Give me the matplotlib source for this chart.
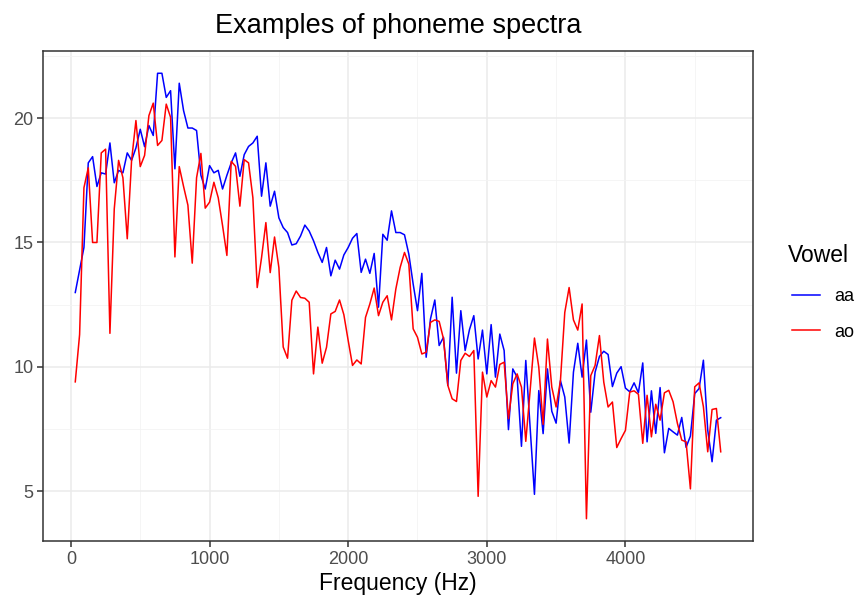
import matplotlib
matplotlib.use("Agg")
import matplotlib.pyplot as plt
import numpy as np

# log-periodogram values for one "aa" and one "ao" utterance, 150 frequency bins
freq_step = 31.25
vowels = ["aa", "ao"]
colors = ["#0000FF", "#FF0000"]

aa = [
    12.99, 13.9, 14.8, 18.2, 18.45, 17.25, 17.8, 17.75, 19.0, 17.4,
    17.9, 17.8, 18.6, 18.3, 18.8, 19.55, 18.85, 19.7, 19.3, 21.8,
    21.8, 20.83, 21.1, 17.96, 21.4, 20.3, 19.6, 19.6, 19.5, 17.7,
    17.15, 18.09, 17.8, 17.9, 17.15, 17.7, 18.2, 18.6, 17.66, 18.53,
    18.86, 19.0, 19.27, 16.86, 18.2, 16.46, 17.06, 15.99, 15.6, 15.4,
    14.9, 14.95, 15.26, 15.7, 15.46, 15.07, 14.6, 14.2, 14.8, 13.66,
    14.29, 13.93, 14.5, 14.8, 15.17, 15.36, 13.8, 14.33, 13.76, 14.56,
    12.4, 15.33, 15.09, 16.27, 15.4, 15.4, 15.31, 14.53, 13.33, 12.26,
    13.76, 10.39, 11.93, 12.69, 10.86, 11.19, 9.26, 12.8, 9.75, 12.26,
    10.66, 11.5, 12.06, 10.32, 11.48, 9.72, 11.7, 9.59, 11.32, 10.66,
    7.48, 9.92, 9.59, 6.81, 10.26, 7.6, 4.88, 9.05, 7.32, 9.92,
    8.22, 7.74, 9.45, 8.79, 6.94, 9.79, 10.95, 9.59, 11.08, 8.18,
    9.79, 10.42, 10.63, 10.5, 9.21, 9.75, 10.01, 9.15, 9.0, 9.36,
    8.96, 10.16, 6.99, 9.04, 7.33, 9.17, 6.55, 7.53, 7.39, 7.26,
    7.97, 6.77, 7.22, 8.93, 9.13, 10.27, 7.46, 6.19, 7.86, 7.96,
]

ao = [
    9.4, 11.3, 17.2, 18.0, 15.0, 15.0, 18.6, 18.75, 11.35, 16.35,
    18.3, 17.6, 15.15, 18.3, 19.9, 18.05, 18.5, 20.1, 20.6, 18.9,
    19.1, 20.56, 20.03, 14.42, 18.05, 17.25, 16.5, 14.17, 17.6, 18.58,
    16.38, 16.62, 17.42, 16.8, 15.68, 14.48, 18.26, 18.06, 16.46, 18.33,
    18.2, 16.8, 13.19, 14.39, 15.8, 13.79, 15.22, 13.99, 10.8, 10.35,
    12.68, 13.05, 12.79, 12.76, 12.6, 9.72, 11.6, 10.15, 10.79, 12.13,
    12.23, 12.69, 12.1, 11.06, 10.06, 10.28, 10.12, 11.99, 12.53, 13.17,
    12.06, 12.6, 12.86, 11.89, 13.13, 14.0, 14.6, 14.13, 11.53, 11.19,
    10.52, 10.59, 11.79, 11.89, 11.83, 11.13, 9.26, 8.72, 8.61, 10.26,
    10.55, 10.42, 10.66, 4.8, 9.79, 8.79, 9.45, 9.19, 10.1, 10.19,
    7.92, 9.32, 9.72, 9.19, 7.01, 9.05, 11.16, 9.99, 7.69, 11.12,
    9.19, 8.39, 9.45, 12.19, 13.19, 11.89, 11.48, 12.53, 3.9, 9.65,
    10.06, 11.26, 9.39, 8.39, 8.59, 6.76, 7.12, 7.45, 8.99, 9.04,
    8.9, 6.93, 8.86, 7.19, 8.5, 7.86, 8.96, 9.06, 8.6, 7.73,
    7.06, 6.99, 5.1, 9.2, 9.36, 8.4, 6.59, 8.29, 8.33, 6.59,
]

freq = freq_step * np.arange(1, len(aa) + 1)

plt.rcParams["font.family"] = ["Liberation Sans", "DejaVu Sans"]

W, H = 858, 595
fig = plt.figure(figsize=(W / 100, H / 100), dpi=100)
ax = fig.add_axes([43 / W, 1 - 541 / H, (753 - 43) / W, (541 - 51) / H])

for name, vals, col in zip(vowels, [aa, ao], colors):
    ax.plot(freq, vals, color=col, lw=1.1, label=name)

# ggplot-like 5% expansion
x0, x1 = freq.min(), freq.max()
allv = np.concatenate([aa, ao])
y0, y1 = allv.min(), allv.max()
ax.set_xlim(x0 - 0.05 * (x1 - x0), x1 + 0.05 * (x1 - x0))
ax.set_ylim(y0 - 0.05 * (y1 - y0), y1 + 0.05 * (y1 - y0))

ax.set_xticks([0, 1000, 2000, 3000, 4000])
ax.set_xticks([500, 1500, 2500, 3500, 4500], minor=True)
ax.set_yticks([5, 10, 15, 20])
ax.set_yticks([7.5, 12.5, 17.5, 22.5], minor=True)
ax.grid(True, which="major", color="#EBEBEB", lw=1.1)
ax.grid(True, which="minor", color="#F3F3F3", lw=0.55)
ax.set_axisbelow(True)
for s in ax.spines.values():
    s.set_color("#333333")
    s.set_linewidth(1.1)
ax.tick_params(which="major", length=4, width=1.1, color="#333333",
               labelsize=13, labelcolor="#4D4D4D", pad=3)
ax.tick_params(which="minor", length=0)

ax.set_xlabel("Frequency (Hz)", fontsize=16.5, color="black", labelpad=3)
fig.text((43 + 753) / 2 / W, 1 - 33 / H, "Examples of phoneme spectra",
         fontsize=19.5, ha="center", va="baseline")

# legend: title drawn separately so its spacing matches ggplot
fig.text(788 / W, 1 - 262 / H, "Vowel", fontsize=16.5, ha="left", va="baseline")
leg = ax.legend(frameon=False, loc="center left",
                bbox_to_anchor=(776 / W, 1 - 314.5 / H), bbox_transform=fig.transFigure,
                fontsize=13, handlelength=1.55, handletextpad=0.8, labelspacing=1.0)

fig.savefig("out.png", dpi=100)
